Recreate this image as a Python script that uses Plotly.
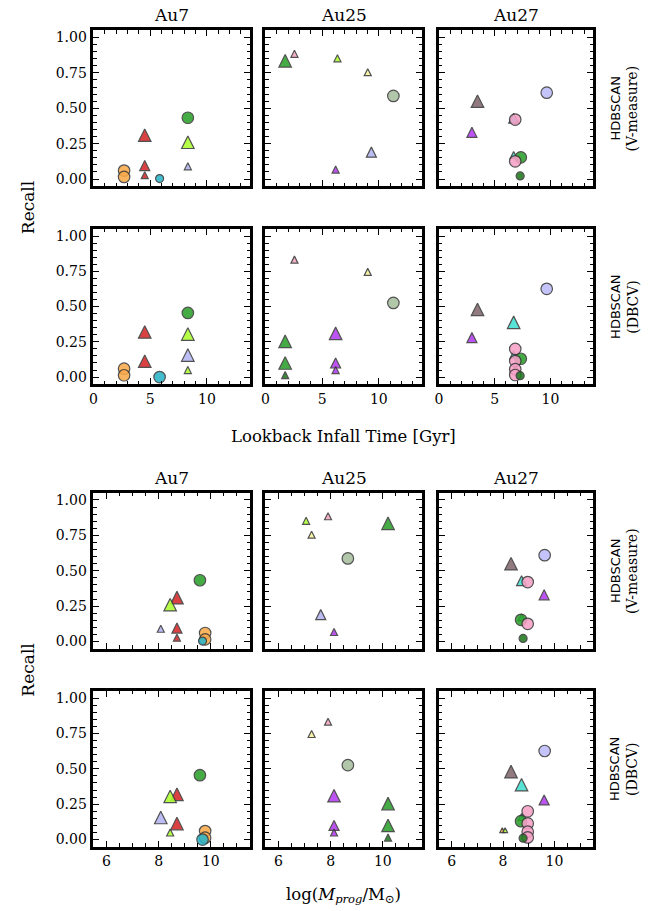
import plotly.graph_objects as go

# ------------------------------------------------------------------ data
# Au7 progenitors: lookback infall time [Gyr] and log stellar mass
AU7_TINFALL = [2.70, 4.52, 5.83, 8.32, 8.32, 8.32]
AU7_LOGM = [9.78, 8.70, 9.68, 9.58, 8.44, 8.08]
AU7_VM_PROG = [1, 1, 1, 4, 5, 0, 0, 2, 3]
AU7_VM_RECALL = [0.31, 0.095, 0.027, 0.26, 0.09, 0.06, 0.015, 0.003, 0.433]
AU7_VM_WEIGHT = [3, 2, 1, 3, 1, 2, 2, 1, 2]
AU7_DB_PROG = [1, 1, 4, 4, 5, 0, 0, 2, 3]
AU7_DB_RECALL = [0.32, 0.113, 0.305, 0.05, 0.156, 0.06, 0.013, 0.0, 0.455]
AU7_DB_WEIGHT = [3, 3, 3, 1, 3, 2, 2, 2, 2]

# Au25 progenitors
AU25_TINFALL = [1.74, 2.56, 6.35, 9.02, 11.28, 9.34, 6.19, 1.74]
AU25_LOGM = [10.20, 7.90, 7.06, 7.27, 8.66, 7.62, 8.13, 10.20]
AU25_VM_PROG = [0, 1, 2, 3, 5, 6, 4]
AU25_VM_RECALL = [0.835, 0.885, 0.853, 0.755, 0.19, 0.067, 0.587]
AU25_VM_WEIGHT = [3, 1, 1, 1, 2, 1, 2]
AU25_DB_PROG = [1, 3, 6, 0, 0, 6, 6, 7, 4]
AU25_DB_RECALL = [0.833, 0.746, 0.31, 0.254, 0.10, 0.10, 0.05, 0.014, 0.526]
AU25_DB_WEIGHT = [1, 1, 3, 3, 3, 2, 1, 1, 2]

# Au27 progenitors
AU27_TINFALL = [9.66, 3.46, 2.96, 6.70, 6.84, 7.34, 6.85, 6.85, 7.28]
AU27_LOGM = [9.62, 8.31, 9.60, 8.72, 8.96, 8.70, 7.97, 8.08, 8.78]
AU27_VM_PROG = [1, 2, 3, 3, 0, 5, 4, 4, 8]
AU27_VM_RECALL = [0.55, 0.33, 0.43, 0.17, 0.61, 0.153, 0.42, 0.125, 0.022]
AU27_VM_WEIGHT = [3, 2, 2, 1, 2, 2, 2, 2, 1]
AU27_DB_PROG = [1, 3, 2, 3, 6, 7, 0, 5, 4, 4, 4, 4, 8]
AU27_DB_RECALL = [0.48, 0.388, 0.28, 0.16, 0.066, 0.066, 0.626, 0.13, 0.20, 0.114, 0.056, 0.015, 0.01]
AU27_DB_WEIGHT = [3, 3, 2, 1, 0, 0, 2, 2, 2, 2, 2, 2, 1]

HALO_NAMES = ["Au7", "Au25", "Au27"]
METHOD_LABELS = ["(V-measure)", "(DBCV)"]
Y_TICKS = [0.0, 0.25, 0.5, 0.75, 1.0]

# ------------------------------------------------------------------ styles
AU7_COLORS = ["#F9AA4B", "#D62728", "#2AB4C8", "#2CA02C", "#ADFF2F", "#B5B5F5"]
AU7_SHAPES = ["c", "t", "c", "c", "t", "t"]
AU25_COLORS = ["#2CA02C", "#F7A6C5", "#ADFF2F", "#FAF49B", "#A8BF9E", "#B5B5F5", "#B53CF2", "#1F7A1F"]
AU25_SHAPES = ["t", "t", "t", "t", "c", "t", "t", "t"]
AU27_COLORS = ["#BDBDFA", "#84696F", "#B53CF2", "#40E0D0", "#F7A1C8", "#2CA02C", "#F9AA4B", "#ADFF2F", "#1F7A1F"]
AU27_SHAPES = ["c", "t", "t", "t", "c", "c", "t", "t", "c"]

TRI_SIZE = {0: 5, 1: 7, 2: 10, 3: 12.5}
CIRC_SIZE = {1: 8, 2: 11.5, 3: 13}

HALOS = [
    dict(t=AU7_TINFALL, m=AU7_LOGM, colors=AU7_COLORS, shapes=AU7_SHAPES,
         runs=[(AU7_VM_PROG, AU7_VM_RECALL, AU7_VM_WEIGHT), (AU7_DB_PROG, AU7_DB_RECALL, AU7_DB_WEIGHT)]),
    dict(t=AU25_TINFALL, m=AU25_LOGM, colors=AU25_COLORS, shapes=AU25_SHAPES,
         runs=[(AU25_VM_PROG, AU25_VM_RECALL, AU25_VM_WEIGHT), (AU25_DB_PROG, AU25_DB_RECALL, AU25_DB_WEIGHT)]),
    dict(t=AU27_TINFALL, m=AU27_LOGM, colors=AU27_COLORS, shapes=AU27_SHAPES,
         runs=[(AU27_VM_PROG, AU27_VM_RECALL, AU27_VM_WEIGHT), (AU27_DB_PROG, AU27_DB_RECALL, AU27_DB_WEIGHT)]),
]

W, H = 665, 911
COL_PX = [(90.0, 247.5), (263.0, 420.5), (437.5, 592.5)]
ROW_PX = [(29.5, 185.5), (228.5, 384.0), (493.0, 649.0), (691.5, 847.5)]
SERIF = "DejaVu Serif"
SANS = "DejaVu Sans"

fig = go.Figure()
layout = {}

for g in range(2):          # 0: infall time, 1: mass
    for meth in range(2):   # 0: V-measure, 1: DBCV
        row = 2 * g + meth
        for c, halo in enumerate(HALOS):
            k = row * 3 + c + 1
            prog, rec, wt = halo["runs"][meth]
            xs, sym, size, ang, so, col = [], [], [], [], [], []
            for p, w in zip(prog, wt):
                xs.append(halo["t"][p] if g == 0 else halo["m"][p])
                col.append(halo["colors"][p])
                if halo["shapes"][p] == "t":
                    s = TRI_SIZE[w]
                    sym.append("arrow-down"); size.append(s); ang.append(180); so.append(s / 2)
                else:
                    s = CIRC_SIZE[w]
                    sym.append("circle"); size.append(s); ang.append(0); so.append(0)
            fig.add_trace(go.Scatter(
                x=xs, y=rec, mode="markers", xaxis=f"x{k}", yaxis=f"y{k}",
                showlegend=False, hoverinfo="skip",
                marker=dict(symbol=sym, size=size, angle=ang, standoff=so, color=col,
                            opacity=0.88, line=dict(color="#3a3a3a", width=1.2)),
            ))
            x0, x1 = COL_PX[c]
            y0, y1 = ROW_PX[row]
            common = dict(showline=True, linecolor="black", linewidth=2.6, mirror="allticks",
                          ticks="inside", ticklen=6, tickwidth=1.1, tickcolor="black",
                          showgrid=False, zeroline=False,
                          tickfont=dict(family=SERIF, size=14, color="black"))
            if g == 0:
                xa = dict(range=[0, 13.8], tick0=0, dtick=5,
                          minor=dict(ticks="inside", ticklen=3.5, tickwidth=1, tickcolor="black", tick0=0, dtick=1))
            else:
                xa = dict(range=[5.5, 11.5], tick0=0, dtick=2,
                          minor=dict(ticks="inside", ticklen=3.5, tickwidth=1, tickcolor="black", tick0=0, dtick=0.5))
            xa.update(common)
            xa.update(domain=[x0 / W, x1 / W], anchor=f"y{k}", showticklabels=(meth == 1))
            ya = dict(range=[-0.05, 1.05], tickmode="array", tickvals=Y_TICKS, tickformat=".2f",
                      ticklabelstandoff=1,
                      minor=dict(ticks="inside", ticklen=3.5, tickwidth=1, tickcolor="black", tick0=0, dtick=0.05))
            ya.update(common)
            ya.update(domain=[1 - y1 / H, 1 - y0 / H], anchor=f"x{k}", showticklabels=(c == 0))
            layout[f"xaxis{k}"] = xa
            layout[f"yaxis{k}"] = ya

ann = []
for g in range(2):
    top = ROW_PX[2 * g][0]
    for c, name in enumerate(HALO_NAMES):
        ann.append(dict(text=name, x=(COL_PX[c][0] + COL_PX[c][1]) / 2 / W, y=1 - (top - 15) / H,
                        xref="paper", yref="paper", showarrow=False, xanchor="center", yanchor="middle",
                        font=dict(family=SERIF, size=17, color="black")))
    yc = (ROW_PX[2 * g][0] + ROW_PX[2 * g + 1][1]) / 2
    ann.append(dict(text="Recall", x=24 / W, y=1 - yc / H, xref="paper", yref="paper", showarrow=False,
                    textangle=-90, xanchor="center", yanchor="middle",
                    font=dict(family=SERIF, size=17, color="black")))
    for meth in range(2):
        r = 2 * g + meth
        ymid = 1 - (ROW_PX[r][0] + ROW_PX[r][1]) / 2 / H
        ann.append(dict(text="HDBSCAN", x=615 / W, y=ymid, xref="paper", yref="paper", showarrow=False,
                        textangle=-90, xanchor="center", yanchor="middle",
                        font=dict(family=SANS, size=13, color="black")))
        ann.append(dict(text=METHOD_LABELS[meth], x=632 / W, y=ymid, xref="paper", yref="paper",
                        showarrow=False, textangle=-90, xanchor="center", yanchor="middle",
                        font=dict(family=SERIF, size=14, color="black")))

xc = (COL_PX[0][0] + COL_PX[2][1]) / 2 / W
ann.append(dict(text="Lookback Infall Time [Gyr]", x=xc, y=1 - 436 / H, xref="paper", yref="paper",
                showarrow=False, xanchor="center", yanchor="middle",
                font=dict(family=SERIF, size=16.5, color="black")))
ann.append(dict(text="log(<i>M</i><sub><i>prog</i></sub>/M<sub>⊙</sub>)", x=xc, y=1 - 896 / H,
                xref="paper", yref="paper", showarrow=False, xanchor="center", yanchor="middle",
                font=dict(family=SERIF, size=16.5, color="black")))

fig.update_layout(width=W, height=H, margin=dict(l=0, r=0, t=0, b=0),
                  paper_bgcolor="white", plot_bgcolor="white", annotations=ann, **layout)
fig.write_html("out.html")
